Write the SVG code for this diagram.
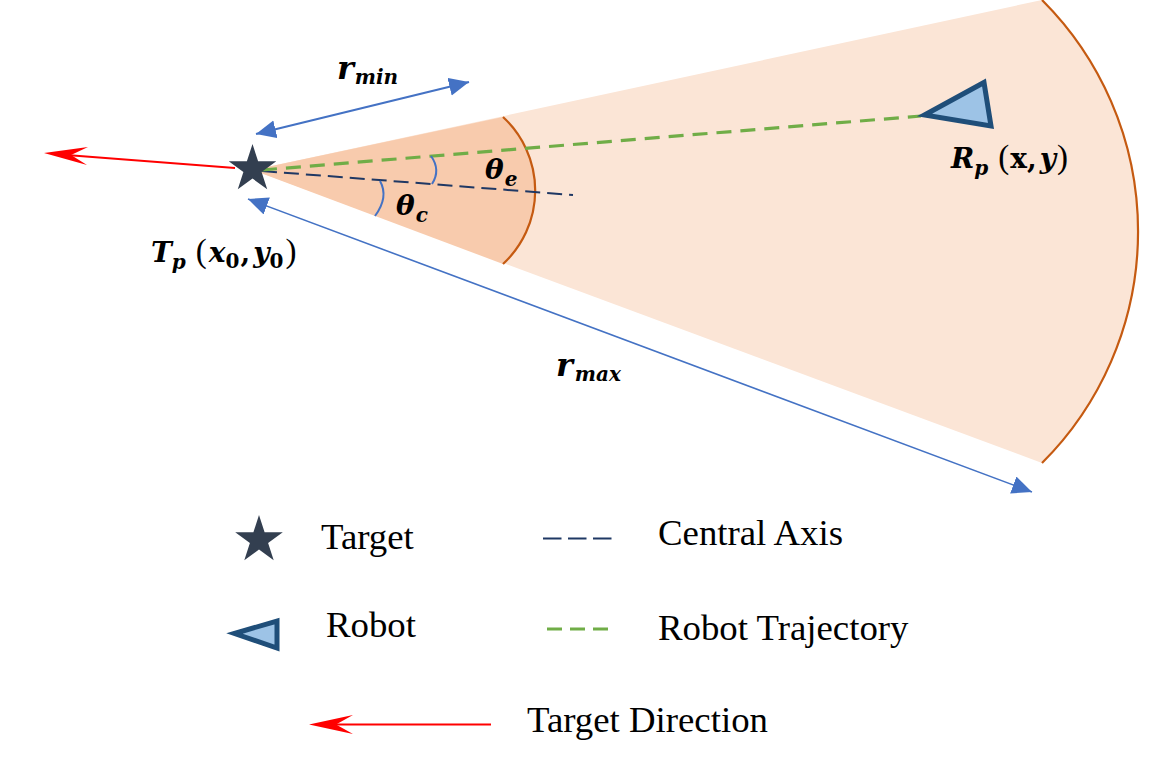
<svg xmlns="http://www.w3.org/2000/svg" width="1171" height="768" viewBox="0 0 1171 768">
<style>
.m{font-family:"DejaVu Serif","Liberation Serif",serif;font-weight:bold;font-style:italic;font-size:28px;fill:#000}
.s{font-size:20px}
.u{font-style:normal;font-family:"Liberation Serif",serif;font-size:33px;font-weight:normal}
.uu{font-style:normal;font-family:"DejaVu Serif",serif}
.l{font-family:"Liberation Serif","Times New Roman",serif;font-size:36.800px;fill:#000}
.b{fill:none;stroke:#4472C4}
.ang{fill:none;stroke:#4472C4;stroke-width:2}
.ax{fill:none;stroke:#1F3864;stroke-width:2;stroke-dasharray:15 7}
.gr{fill:none;stroke:#70AD47;stroke-width:3.200;stroke-dasharray:15 9}
.rd{fill:none;stroke:#F00;stroke-width:2}
.rb{fill:#9DC3E6;stroke:#1F4E79;stroke-width:5;stroke-linejoin:miter}
.st{fill:#333F50}
</style>
<defs>
<marker id="bh" markerUnits="userSpaceOnUse" markerWidth="22" markerHeight="20" refX="20" refY="9" orient="auto-start-reverse"><path d="M0 0L20 9L0 18Z" fill="#4472C4"/></marker>
<polygon id="star" points="0,-25 5.600,-7.700 23.800,-7.700 9.100,2.900 14.700,20.200 0,9.600 -14.700,20.200 -9.100,2.900 -23.800,-7.700 -5.600,-7.700"/>
</defs>
<g id="sector">
<path d="M253 170L1042 0A327 327 0 0 1 1042 463Z" fill="#FBE5D6"/>
<path d="M253 170L503 117A100 100 0 0 1 503 264Z" fill="#F8CBAD"/>
<path d="M1042 0A327 327 0 0 1 1042 463" fill="none" stroke="#C55A11" stroke-width="2.200"/>
<path d="M503 117A100 100 0 0 1 503 264" fill="none" stroke="#C55A11" stroke-width="2.200"/>
</g>
<g id="connectors">
<path class="b" stroke-width="2.200" d="M256 134L469 82" marker-start="url(#bh)" marker-end="url(#bh)"/>
<path class="b" stroke-width="1.600" d="M248 199L1032 492" marker-start="url(#bh)" marker-end="url(#bh)"/>
<path class="rd" d="M235 168L60 154.400"/>
<path d="M44 153L88 147L71 155L87 165Z" fill="#F00"/>
<path class="ax" d="M262 171L573 195"/>
<path class="gr" d="M262 170L921 116"/>
<path class="ang" d="M431 156Q441 170 432 184"/>
<path class="ang" d="M380 181Q389 197 375 216"/>
<path class="ax" style="stroke-dasharray:18.500 6.500" d="M543 538.500H612"/>
<path class="gr" style="stroke-dasharray:15 8" d="M547 629H609"/>
<path class="rd" d="M330 724.500H491"/>
<path d="M309 724.500L353 715L336 724.500L353 734Z" fill="#F00"/>
</g>
<g id="target"><use href="#star" class="st" x="252.500" y="169"/></g>
<g id="robot"><polygon class="rb" points="924.500,115 984,82.500 991,126"/></g>
<g id="labels">
<text class="m" x="337" y="79" style="font-size:32px">r<tspan class="s" dy="5" dx="1">min</tspan></text>
<text class="m" x="556" y="376" style="font-size:32px">r<tspan class="s" dy="5" dx="2">max</tspan></text>
<text class="m" x="485" y="179">θ<tspan class="s" dy="7" dx="1">e</tspan></text>
<text class="m" x="396" y="215">θ<tspan class="s" dy="7" dx="1">c</tspan></text>
<text class="m" x="151" y="262">T<tspan class="s" dy="7">p</tspan><tspan class="u" dy="-7" dx="10">(</tspan><tspan dx="2">x</tspan><tspan class="s uu" dy="6">0</tspan><tspan class="uu" dy="-6" dx="1">,</tspan><tspan dx="3">y</tspan><tspan class="s uu" dy="6">0</tspan><tspan class="u" dy="-6" dx="2">)</tspan></text>
<text class="m" x="951" y="168">R<tspan class="s" dy="7">p</tspan><tspan class="u" dy="-7" dx="10">(</tspan><tspan class="uu" dx="1">x,</tspan><tspan dx="3">y</tspan><tspan class="u" dx="1">)</tspan></text>
</g>
<g id="legend-target"><use href="#star" class="st" x="259" y="540"/><text class="l" x="321" y="549">Target</text></g>
<g id="legend-robot"><polygon class="rb" points="234.500,633.500 277,621 277,648"/><text class="l" x="326" y="637">Robot</text></g>
<g id="legend-axis"><text class="l" x="658" y="545">Central Axis</text></g>
<g id="legend-trajectory"><text class="l" x="658" y="640">Robot Trajectory</text></g>
<g id="legend-direction"><text class="l" x="527" y="732">Target Direction</text></g>
</svg>
